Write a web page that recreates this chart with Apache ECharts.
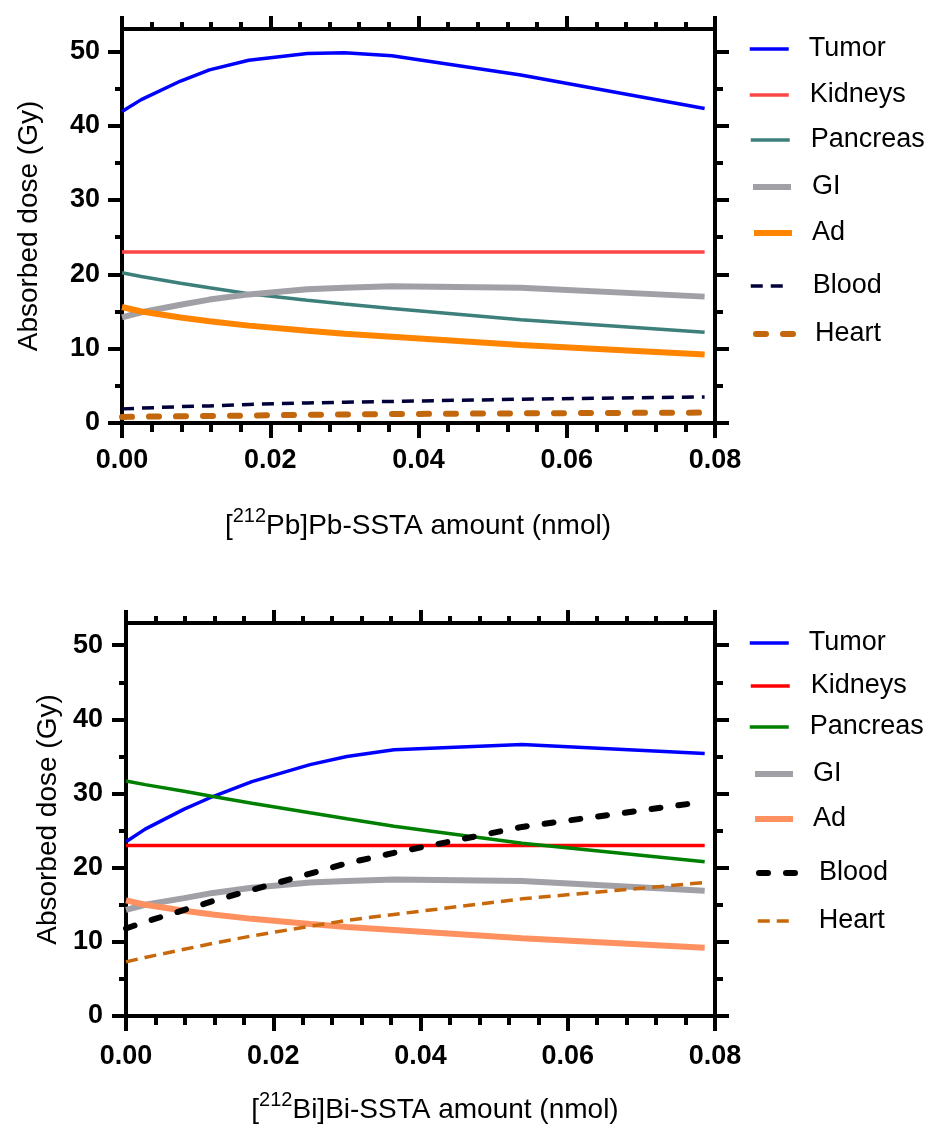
<!DOCTYPE html>
<html><head><meta charset="utf-8">
<script src="https://cdn.jsdelivr.net/npm/echarts@6/dist/echarts.min.js"></script>
<style>html,body{margin:0;padding:0;background:#fff}#c1,#c2{width:938px;height:563px}</style>
</head><body><div id="c1"></div><div id="c2"></div>
<script>
// ---- data ----
const xValues = [0, 0.0026, 0.0079, 0.0118, 0.0171, 0.0250, 0.0300, 0.0364, 0.0538, 0.0786];
const yTicks = [0, 10, 20, 30, 40, 50];
const yMinorTicks = [5, 15, 25, 35, 45];
const seriesNames = ['Tumor', 'Kidneys', 'Pancreas', 'GI', 'Ad', 'Blood', 'Heart'];

// [212Pb]Pb-SSTA
const pbTumor    = [41.9, 43.5, 46.0, 47.5, 48.8, 49.7, 49.8, 49.4, 46.8, 42.3];
const pbKidneys  = [23.0, 23.0, 23.0, 23.0, 23.0, 23.0, 23.0, 23.0, 23.0, 23.0];
const pbPancreas = [20.2, 19.7, 18.8, 18.2, 17.4, 16.5, 16.0, 15.4, 13.9, 12.2];
const pbGI       = [14.2, 14.9, 15.9, 16.6, 17.3, 18.0, 18.2, 18.4, 18.2, 17.0];
const pbAd       = [15.6, 15.0, 14.2, 13.7, 13.1, 12.4, 12.0, 11.6, 10.5, 9.2];
const pbBlood    = [1.9, 2.0, 2.2, 2.3, 2.5, 2.7, 2.8, 2.9, 3.2, 3.5];
const pbHeart    = [0.8, 0.85, 0.9, 0.95, 1.0, 1.1, 1.15, 1.2, 1.3, 1.4];

// [212Bi]Bi-SSTA
const biTumor    = [23.5, 25.2, 27.9, 29.6, 31.6, 33.9, 35.0, 35.9, 36.6, 35.4];
const biKidneys  = [23.0, 23.0, 23.0, 23.0, 23.0, 23.0, 23.0, 23.0, 23.0, 23.0];
const biPancreas = [31.7, 31.2, 30.3, 29.6, 28.7, 27.4, 26.6, 25.6, 23.3, 20.8];
const biGI       = [14.3, 15.0, 15.9, 16.6, 17.3, 18.0, 18.2, 18.4, 18.2, 16.9];
const biAd       = [15.6, 15.0, 14.2, 13.7, 13.1, 12.4, 12.0, 11.6, 10.5, 9.2];
const biBlood    = [11.8, 12.7, 14.3, 15.5, 17.0, 19.2, 20.6, 22.0, 25.5, 28.9];
const biHeart    = [7.3, 7.9, 9.0, 9.8, 10.8, 12.1, 12.9, 13.7, 15.8, 18.0];

// ---- styles ----
const FONT = '"Liberation Sans", Arial, sans-serif';
const pbStyles = [
  {color:'#0000ff', width:3.5, type:'solid'},
  {color:'#fa4646', width:3.5, type:'solid'},
  {color:'#3d7f7a', width:3.5, type:'solid'},
  {color:'#a1a0a6', width:6, type:'solid'},
  {color:'#ff8400', width:6, type:'solid'},
  {color:'#00003a', width:3.5, type:[12, 8], cap:'butt'},
  {color:'#c3670c', width:6, type:[10, 17], cap:'round'}
];
const biStyles = [
  {color:'#0000ff', width:3.5, type:'solid'},
  {color:'#ff0000', width:3.5, type:'solid'},
  {color:'#008000', width:3.5, type:'solid'},
  {color:'#a1a0a6', width:6, type:'solid'},
  {color:'#ff9160', width:6, type:'solid'},
  {color:'#000000', width:6, type:[9, 18], cap:'round'},
  {color:'#c8680a', width:3.5, type:[12, 7], cap:'butt'}
];
// legend layout: [left, top, itemWidth, textPad]
const pbLegendPos = [[748,34,39,15],[748,80,39,16],[749,125,39,16],[750,172,38,16],[751,218,38,15],[749,271,32,25],[753,319,37,17]];
const biLegendPos = [[748,65,39,15],[749,108,39,16],[748,149,39,16],[752,196,38,15],[752,241,38,15],[756,295,38,17],[756,343,31,25]];

function zip(vals){ return xValues.map((x,i)=>[x, vals[i]]); }

function makeOption(cfg){
  const blk = '#000';
  const xBase = {
    type:'value', gridIndex:0, min:0, max:0.08, interval:0.02,
    axisLine:{onZero:false, lineStyle:{color:blk, width:4, cap:'square'}},
    splitLine:{show:false}, minorSplitLine:{show:false}
  };
  const yBase = {
    type:'value', gridIndex:0, min:0, max:53,
    splitLine:{show:false}, minorSplitLine:{show:false}
  };
  const xAxis = [
    Object.assign({}, xBase, {position:'bottom',
      axisTick:{show:true, length:15, lineStyle:{color:blk, width:4}},
      minorTick:{show:true, splitNumber:5, length:9, lineStyle:{color:blk, width:4}},
      axisLabel:{formatter:v=>v.toFixed(2), fontSize:27, fontWeight:'bold', color:blk, fontFamily:FONT, margin:cfg.xLabelMargin}}),
    Object.assign({}, xBase, {position:'top',
      axisTick:{show:true, length:13, lineStyle:{color:blk, width:4}},
      minorTick:{show:true, splitNumber:5, length:7, lineStyle:{color:blk, width:4}},
      axisLabel:{show:false}})
  ];
  const yAxis = [
    Object.assign({}, yBase, {position:'left',
      axisLine:{show:true, onZero:false, lineStyle:{color:blk, width:4, cap:'square'}},
      axisTick:{show:true, length:14, customValues:yTicks, lineStyle:{color:blk, width:4}},
      axisLabel:{customValues:yTicks, fontSize:27, fontWeight:'bold', color:blk, fontFamily:FONT, margin:cfg.yLabelMargin},
      name:'Absorbed dose (Gy)', nameLocation:'middle', nameGap:cfg.yNameGap,
      nameTextStyle:{fontSize:28, color:blk, fontFamily:FONT}}),
    Object.assign({}, yBase, {position:'left',
      axisLine:{show:false, onZero:false},
      axisTick:{show:true, length:7, customValues:yMinorTicks, lineStyle:{color:blk, width:4}},
      axisLabel:{show:false}}),
    Object.assign({}, yBase, {position:'right',
      axisLine:{show:true, onZero:false, lineStyle:{color:blk, width:4, cap:'square'}},
      axisTick:{show:true, length:14, customValues:yTicks, lineStyle:{color:blk, width:4}},
      axisLabel:{show:false}}),
    Object.assign({}, yBase, {position:'right',
      axisLine:{show:false, onZero:false},
      axisTick:{show:true, length:8, customValues:yMinorTicks, lineStyle:{color:blk, width:4}},
      axisLabel:{show:false}})
  ];
  const series = seriesNames.map((n,i)=>({
    name:n, type:'line', xAxisIndex:0, yAxisIndex:0, data:zip(cfg.values[i]),
    symbol:'none', smooth:false, color:cfg.styles[i].color,
    lineStyle:{color:cfg.styles[i].color, width:cfg.styles[i].width, type:cfg.styles[i].type, cap:cfg.styles[i].cap||'butt'},
    emphasis:{disabled:true}
  }));
  const legend = seriesNames.map((n,i)=>{
    const p = cfg.legendPos[i];
    return {
      data:[n], left:p[0], top:p[1], orient:'vertical', padding:0,
      itemWidth:p[2], itemHeight:14, selectedMode:false,
      itemStyle:{color:'rgba(0,0,0,0)', borderColor:'rgba(0,0,0,0)', borderWidth:0, opacity:0},
      lineStyle:{width:cfg.styles[i].width},
      textStyle:{fontSize:27, color:'#000', fontFamily:FONT, lineHeight:30, padding:[0,0,0,p[3]]}
    };
  });
  return {
    animation:false,
    backgroundColor:'#fff',
    grid:[cfg.grid],
    xAxis, yAxis, series, legend,
    graphic:[{
      type:'text', x:cfg.xTitle[0], y:cfg.xTitle[1],
      style:{
        text:cfg.xTitleText, fontSize:28, fontFamily:FONT, fill:'#000', lineHeight:40,
        align:'center', verticalAlign:'middle',
        rich:{
          b:{fontSize:28, fontFamily:FONT, fill:'#000', lineHeight:40},
          sup:{fontSize:20, fontFamily:FONT, fill:'#000', lineHeight:20, verticalAlign:'top'}
        }
      }
    }]
  };
}

const c1 = echarts.init(document.getElementById('c1'), null, {renderer:'canvas'});
c1.setOption(makeOption({
  grid:{left:122, right:223, top:29, bottom:140, containLabel:false},
  values:[pbTumor, pbKidneys, pbPancreas, pbGI, pbAd, pbBlood, pbHeart],
  styles:pbStyles, legendPos:pbLegendPos,
  xLabelMargin:24, yLabelMargin:22, yNameGap:79,
  xTitle:[418, 526], xTitleText:'{b|[}{sup|212}{b|Pb]Pb-SSTA amount (nmol)}'
}));
const c2 = echarts.init(document.getElementById('c2'), null, {renderer:'canvas'});
c2.setOption(makeOption({
  grid:{left:126, right:223, top:60, bottom:110, containLabel:false},
  values:[biTumor, biKidneys, biPancreas, biGI, biAd, biBlood, biHeart],
  styles:biStyles, legendPos:biLegendPos,
  xLabelMargin:27, yLabelMargin:23, yNameGap:64,
  xTitle:[435, 547], xTitleText:'{b|[}{sup|212}{b|Bi]Bi-SSTA amount (nmol)}'
}));
</script></body></html>
